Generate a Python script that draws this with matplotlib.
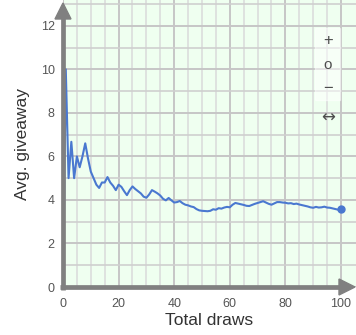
import matplotlib
matplotlib.use('Agg')
import matplotlib.pyplot as plt
from matplotlib.patches import Polygon, Rectangle
import numpy as np

# running average of giveaway per draw
draws = list(range(0, 101))
avg_giveaway = [0, 10, 5, 6.67, 5, 6.0, 5.5, 6.0, 6.6, 5.9,
                5.3, 5.0, 4.7, 4.55, 4.8, 4.8, 5.05, 4.8, 4.65, 4.45,
                4.7, 4.6, 4.4, 4.22, 4.45, 4.62, 4.5, 4.4, 4.3, 4.15,
                4.1, 4.25, 4.45, 4.38, 4.3, 4.2, 4.05, 3.98, 4.09, 3.98,
                3.88, 3.9, 3.95, 3.85, 3.78, 3.75, 3.7, 3.67, 3.58, 3.52,
                3.5, 3.49, 3.48, 3.5, 3.57, 3.55, 3.62, 3.6, 3.65, 3.68,
                3.66, 3.78, 3.86, 3.83, 3.8, 3.77, 3.73, 3.72, 3.77, 3.82,
                3.86, 3.9, 3.94, 3.88, 3.82, 3.78, 3.84, 3.9, 3.9, 3.88,
                3.87, 3.84, 3.85, 3.81, 3.83, 3.79, 3.76, 3.73, 3.7, 3.66,
                3.64, 3.68, 3.65, 3.66, 3.69, 3.65, 3.64, 3.61, 3.58, 3.55,
                3.57]

x_ticks = [0, 20, 40, 60, 80, 100]
y_ticks = [0, 2, 4, 6, 8, 10, 12]

plt.rcParams['font.family'] = ['Liberation Sans', 'DejaVu Sans']

W, H = 356, 335
fig = plt.figure(figsize=(W / 100, H / 100), dpi=100)
x0, y0 = 63, 287
ax = fig.add_axes([x0 / W, (H - y0) / H, 1 - x0 / W, 1 - (H - y0) / H])
ax.set_facecolor('#effff0')
ax.set_xlim(0, (W - x0) / 2.78)
ax.set_ylim(0, y0 / 21.77)

ax.set_xticks(x_ticks)
ax.set_xticks(np.arange(0, 101, 5), minor=True)
ax.set_yticks(y_ticks)
ax.set_yticks(np.arange(0, 14, 1), minor=True)
ax.tick_params(which='both', length=0)
ax.tick_params(axis='x', pad=8, labelsize=9, labelcolor='#555555')
ax.tick_params(axis='y', pad=6, labelsize=9, labelcolor='#555555')
ax.grid(True, which='major', color='#c6c6c6', lw=1.4)
ax.grid(True, which='minor', axis='x', color='#dadada', lw=1.1)
ax.grid(True, which='minor', axis='y', color='#cfcfcf', lw=1.2)
ax.set_axisbelow(True)
for s in ax.spines.values():
    s.set_visible(False)

ax.plot(draws, avg_giveaway, color='#4a78d0', lw=1.5, zorder=3)
ax.plot(draws[-1], avg_giveaway[-1], 'o', color='#4a78d0', ms=5, zorder=4)

# axis lines with arrows
axc = '#808080'
ax.plot([0, 0], [-0.01, 0.95], transform=ax.transAxes, color=axc, lw=3.4,
        clip_on=False, zorder=5, solid_capstyle='butt')
ax.plot([-0.01, 0.95], [0, 0], transform=ax.transAxes, color=axc, lw=3.4,
        clip_on=False, zorder=5, solid_capstyle='butt')
ax.add_patch(Polygon([(x0 - 8, 19), (x0 + 8, 19), (x0, 3)], closed=True,
                     transform=None, color=axc, zorder=6, clip_on=False))
ax.add_patch(Polygon([(339, y0 - 8), (339, y0 + 8), (355, y0)], closed=True,
                     transform=None, color=axc, zorder=6, clip_on=False))

# patches above were given in pixels from the top
for p in ax.patches:
    xy = p.get_xy()
    xy[:, 1] = H - xy[:, 1]
    p.set_xy(xy)

ax.set_xlabel('Total draws', fontsize=12.5, color='#333333', labelpad=2)
ax.set_ylabel('Avg. giveaway', fontsize=12.5, color='#333333', labelpad=8)

# zoom widget
fig.patches.append(Rectangle((315 / W, 1 - 100 / H), 25 / W, 72 / H,
                             transform=fig.transFigure, color='white',
                             alpha=0.5, zorder=7))
for ty, s, fs in [(41, '+', 12), (65, 'o', 11), (89, '\u2212', 12)]:
    fig.text(328 / W, 1 - ty / H, s, ha='center', va='center',
             fontsize=fs, color='#4d4d4d', zorder=8)
fig.text(328 / W, 1 - 118 / H, '\u2194', ha='center', va='center',
         fontsize=12, color='#4d4d4d', zorder=8, family='DejaVu Sans')

fig.savefig('out.png', dpi=100)
